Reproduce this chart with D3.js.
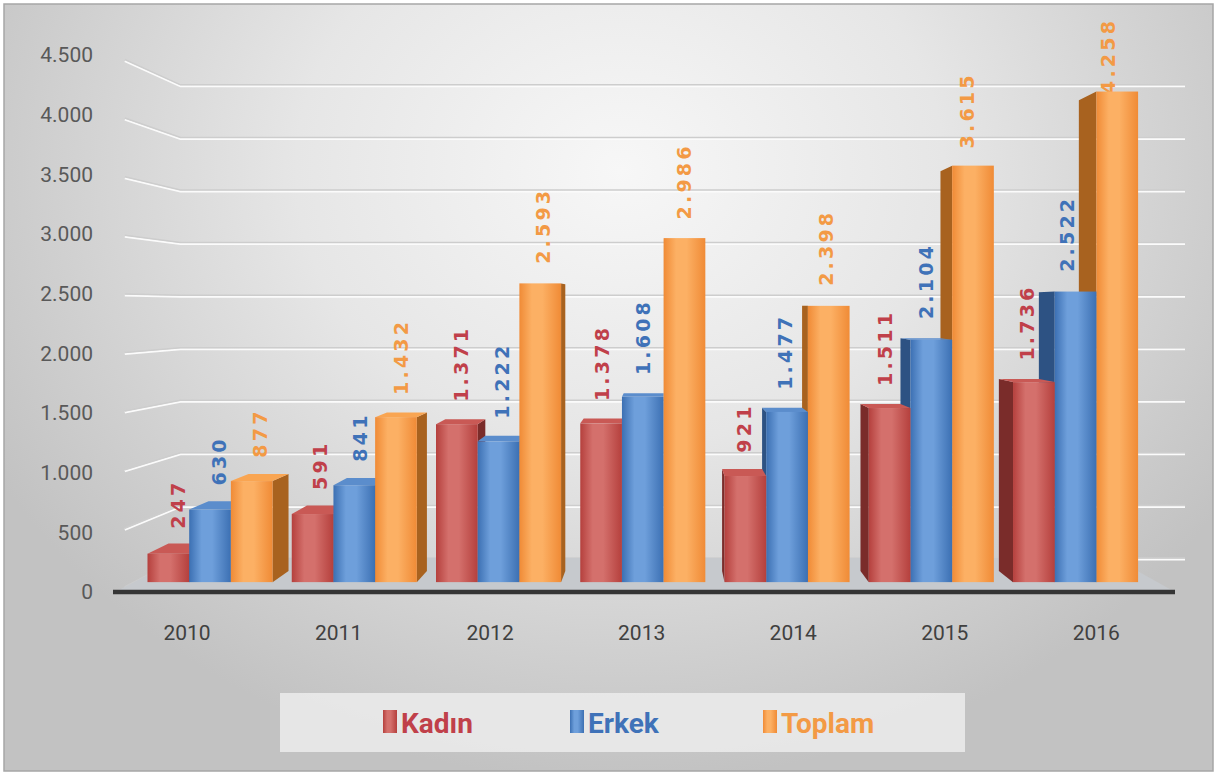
<!DOCTYPE html>
<html>
<head>
<meta charset="utf-8">
<script src="https://cdn.jsdelivr.net/npm/d3@7"></script>
<style>
  body { margin: 0; background: #fff; }
  svg text { font-family: Roboto, "Liberation Sans", sans-serif; }
  svg text.vlabel { font-family: "DejaVu Sans", sans-serif; font-weight: bold; }
</style>
</head>
<body>
<div id="chart"></div>
<script>
// data
var years = ["2010", "2011", "2012", "2013", "2014", "2015", "2016"];
var kadin = [247, 591, 1371, 1378, 921, 1511, 1736];
var erkek = [630, 841, 1222, 1608, 1477, 2104, 2522];
var toplam = [877, 1432, 2593, 2986, 2398, 3615, 4258];
var seriesNames = ["Kadın", "Erkek", "Toplam"];
var yTicks = [0, 500, 1000, 1500, 2000, 2500, 3000, 3500, 4000, 4500];

var svgWidth = 1215;
var svgHeight = 774;

// colours per series: front edge, front centre, side, top
var colors = {
  "Kadın": { edge: "#b5403d", mid: "#d4706c", side: "#7a2c2a", top: "#c95955", text: "#c0404a" },
  "Erkek": { edge: "#3c70b3", mid: "#6e9fdb", side: "#2d5283", top: "#5b8dcc", text: "#3f72b8" },
  "Toplam": { edge: "#f08b36", mid: "#fcb064", side: "#a8621f", top: "#f9a552", text: "#f39a45" }
};

// fake perspective: vanishing point and depth shrink
var vx = 665, vy = 306, shrink = 0.119;
function proj(x, y, f) {
  var s = 1 - shrink * f;
  return [vx + (x - vx) * s, vy + (y - vy) * s];
}

var tr = d3.formatLocale({ decimal: ",", thousands: ".", grouping: [3], currency: ["", "₺"] });
var fmt = tr.format(",d");

var svg = d3.select("#chart").append("svg")
  .attr("width", svgWidth)
  .attr("height", svgHeight);
var defs = svg.append("defs");

// background gradient
var bg = defs.append("radialGradient")
  .attr("id", "bg")
  .attr("gradientUnits", "userSpaceOnUse")
  .attr("cx", 620).attr("cy", 170).attr("r", 720)
  .attr("gradientTransform", "translate(620,170) scale(1,0.85) translate(-620,-170)");
bg.append("stop").attr("offset", 0).attr("stop-color", "#f7f7f7");
bg.append("stop").attr("offset", 0.45).attr("stop-color", "#e6e6e6");
bg.append("stop").attr("offset", 1).attr("stop-color", "#c2c2c2");

seriesNames.forEach(function(n, i) {
  var g = defs.append("linearGradient").attr("id", "front" + i)
    .attr("x1", 0).attr("x2", 1).attr("y1", 0).attr("y2", 0);
  g.append("stop").attr("offset", 0).attr("stop-color", colors[n].edge);
  g.append("stop").attr("offset", 0.3).attr("stop-color", colors[n].mid);
  g.append("stop").attr("offset", 0.55).attr("stop-color", colors[n].mid);
  g.append("stop").attr("offset", 1).attr("stop-color", colors[n].edge);
});

svg.append("rect")
  .attr("x", 4).attr("y", 4)
  .attr("width", 1209).attr("height", 767)
  .attr("fill", "url(#bg)")
  .attr("stroke", "#a6a6a6")
  .attr("stroke-width", 1.5);

// scales (world = front plane)
var yScale = d3.scaleLinear().domain([0, 4500]).range([592, 55]);
var x0 = d3.scaleBand().domain(years).range([129, 1155]).paddingInner(0.133);
var x1 = d3.scaleBand().domain(seriesNames).range([0, x0.bandwidth()]);

var fFront = 0.29, fBack = 0.62, fMid = 0.45;
var wallLeft = 115, wallRight = 1185;

// ** back wall and side wall grid **
var grid = svg.append("g");
yTicks.forEach(function(t) {
  var a = proj(wallLeft, yScale(t), 0.15);
  var b = proj(wallLeft, yScale(t), 1);
  var yb = b[1];
  grid.append("path")
    .attr("d", "M" + a + "L" + b + "L" + wallRight + "," + yb)
    .attr("fill", "none")
    .attr("stroke", "#fbfbfb")
    .attr("stroke-width", 2)
    .attr("transform", "translate(0,1.5)");
  grid.append("path")
    .attr("d", "M" + a + "L" + b + "L" + wallRight + "," + yb)
    .attr("fill", "none")
    .attr("stroke", "#cdcdcd")
    .attr("stroke-width", 1.5);
});

// ** floor **
var fl = [proj(wallLeft, 592, 0), proj(1175, 592, 0), proj(1175, 592, 1), proj(wallLeft, 592, 1)];
svg.append("path")
  .attr("d", "M" + fl.join("L") + "Z")
  .attr("fill", "#c6c9cd");
svg.append("line")
  .attr("x1", 113).attr("x2", 1175)
  .attr("y1", 592).attr("y2", 592)
  .attr("stroke", "#353535")
  .attr("stroke-width", 4.5);

// ** y axis labels **
var leftAxis = d3.axisLeft(yScale).tickValues(yTicks).tickFormat(fmt).tickSize(0).tickPadding(0);
svg.append("g")
  .attr("transform", "translate(93,0)")
  .call(leftAxis)
  .call(function(g) { g.select(".domain").remove(); })
  .selectAll("text")
  .attr("font-size", 21)
  .attr("fill", "#595959");

// ** x axis labels ** (slightly in front of the floor)
var labL = proj(129, 0, -0.12)[0], labR = proj(1155, 0, -0.12)[0];
var xLab = d3.scaleBand().domain(years).range([labL, labR]).paddingInner(0.133);
svg.append("g")
  .attr("transform", "translate(0,625)")
  .call(d3.axisBottom(xLab).tickSize(0).tickPadding(0))
  .call(function(g) { g.select(".domain").remove(); })
  .selectAll("text")
  .attr("font-size", 21)
  .attr("fill", "#404040")
  .attr("dy", "0.71em");

// bar records
var bars = [];
years.forEach(function(yr, i) {
  [kadin[i], erkek[i], toplam[i]].forEach(function(v, j) {
    bars.push({ year: yr, name: seriesNames[j], idx: j, value: v });
  });
});

// ** value labels ** (drawn before bars so the bars sit on top)
svg.append("g").selectAll("text")
  .data(bars)
  .enter()
  .append("text")
  .attr("class", "vlabel")
  .each(function(d) {
    var cx = x0(d.year) + x1(d.name) + x1.bandwidth() / 2;
    var p = proj(cx, yScale(d.value), fMid);
    var bottom = Math.max(p[1] - 20, 16 + 78);
    d3.select(this)
      .attr("transform", "translate(" + (p[0] + 7) + "," + bottom + ") rotate(-90)");
  })
  .attr("font-size", 19)
  .attr("letter-spacing", 3.2)
  .attr("fill", d => colors[d.name].text)
  .text(d => fmt(d.value));

// ** bars ** (farther from the vanishing point first)
bars.forEach(function(d) {
  d.wx0 = x0(d.year) + x1(d.name);
  d.wx1 = d.wx0 + x1.bandwidth();
});
bars.sort(function(a, b) {
  return Math.abs((b.wx0 + b.wx1) / 2 - vx) - Math.abs((a.wx0 + a.wx1) / 2 - vx);
});

var barG = svg.append("g");
bars.forEach(function(d) {
  var yt = yScale(d.value), yb = yScale(0);
  var ftl = proj(d.wx0, yt, fFront), ftr = proj(d.wx1, yt, fFront);
  var fbl = proj(d.wx0, yb, fFront), fbr = proj(d.wx1, yb, fFront);
  var btl = proj(d.wx0, yt, fBack), btr = proj(d.wx1, yt, fBack);
  var bbl = proj(d.wx0, yb, fBack), bbr = proj(d.wx1, yb, fBack);
  var c = colors[d.name];
  var g = barG.append("g");
  var side = (d.wx0 + d.wx1) / 2 < vx ? [ftr, btr, bbr, fbr] : [ftl, btl, bbl, fbl];
  g.append("path").attr("d", "M" + side.join("L") + "Z").attr("fill", c.side);
  if (yt > vy) {
    g.append("path").attr("d", "M" + [ftl, ftr, btr, btl].join("L") + "Z").attr("fill", c.top);
  }
  g.append("rect")
    .attr("x", ftl[0]).attr("y", ftl[1])
    .attr("width", ftr[0] - ftl[0])
    .attr("height", fbl[1] - ftl[1])
    .attr("fill", "url(#front" + d.idx + ")");
});

// ** legend **
var legend = svg.append("g");
legend.append("rect")
  .attr("x", 280).attr("y", 693)
  .attr("width", 685).attr("height", 59)
  .attr("fill", "#ececec")
  .attr("opacity", 0.85);
var legX = [383, 570, 763];
seriesNames.forEach(function(n, i) {
  legend.append("rect")
    .attr("x", legX[i]).attr("y", 710)
    .attr("width", 14).attr("height", 23)
    .attr("fill", "url(#front" + i + ")");
  legend.append("text")
    .attr("x", legX[i] + 18).attr("y", 733)
    .attr("font-size", 28)
    .attr("font-weight", "bold")
    .attr("fill", colors[n].text)
    .text(n);
});
</script>
</body>
</html>
